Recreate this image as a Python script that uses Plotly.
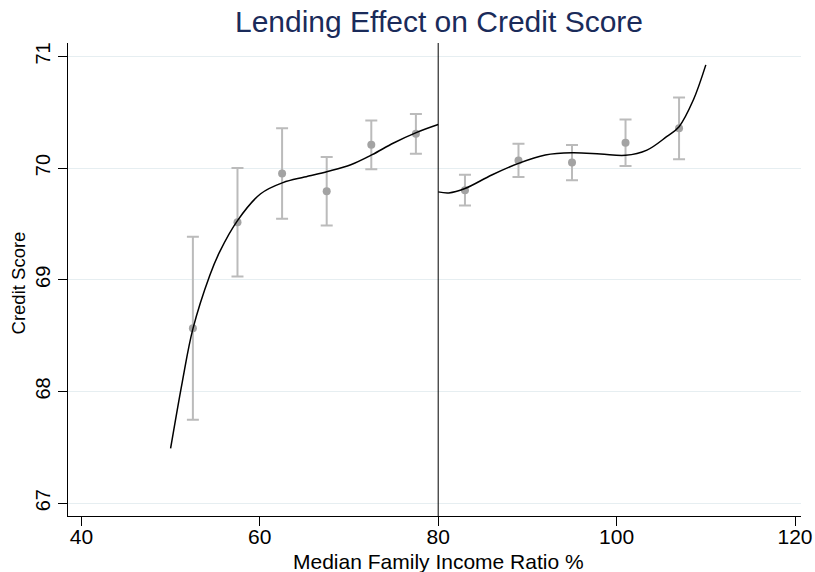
import plotly.graph_objects as go

# Binned means with confidence intervals
bin_x = [52.5, 57.5, 62.5, 67.5, 72.5, 77.5, 83, 89, 95, 101, 107]
bin_mean = [68.566, 69.515, 69.951, 69.792, 70.208, 70.307, 69.802, 70.069, 70.049, 70.227, 70.356]
ci_half = [0.82, 0.485, 0.405, 0.307, 0.218, 0.178, 0.138, 0.148, 0.158, 0.208, 0.277]

# Fitted curve below the 80% cutoff
fit_left_x = [50.0, 51.3, 52.5, 54.4, 55.5, 57.5, 60.1, 62.6, 65.0, 67.6, 70.2, 72.6, 75.0, 77.6, 80.0]
fit_left_y = [67.49, 68.08, 68.56, 69.04, 69.25, 69.53, 69.77, 69.87, 69.92, 69.97, 70.03, 70.12, 70.225, 70.32, 70.39]

# Fitted curve above the 80% cutoff
fit_right_x = [80.0, 81.2, 83.0, 86.0, 89.0, 92.0, 95.0, 98.2, 101.0, 103.4, 105.6, 107.0, 108.6, 110.0]
fit_right_y = [69.787, 69.778, 69.817, 69.938, 70.042, 70.117, 70.137, 70.126, 70.114, 70.161, 70.281, 70.371, 70.61, 70.924]

cutoff = 80
x_ticks = [40, 60, 80, 100, 120]
y_ticks = [67, 68, 69, 70, 71]
x_title = "Median Family Income Ratio %"
y_title = "Credit Score"

fig = go.Figure()

fig.add_trace(go.Scatter(
    x=bin_x, y=bin_mean, mode="markers",
    marker=dict(size=8, color="rgb(163,163,163)"),
    error_y=dict(type="data", array=ci_half, visible=True,
                 color="rgb(187,187,187)", thickness=2, width=6),
    showlegend=False,
))

for xs, ys in [(fit_left_x, fit_left_y), (fit_right_x, fit_right_y)]:
    fig.add_trace(go.Scatter(
        x=xs, y=ys, mode="lines",
        line=dict(color="black", width=1.5, shape="spline", smoothing=1.0),
        showlegend=False,
    ))

fig.add_shape(type="line", x0=cutoff, x1=cutoff, xref="x",
              y0=0, y1=1, yref="paper",
              line=dict(color="black", width=1))

font_family = "Liberation Sans, Arial, sans-serif"

# Axis titles placed as annotations for precise spacing
fig.add_annotation(text=x_title, xref="x", x=cutoff, yref="paper", y=-0.096,
                   xanchor="center", yanchor="middle", showarrow=False,
                   font=dict(size=21, color="black", family=font_family))
fig.add_annotation(text=y_title, xref="paper", x=-0.068, yref="paper", y=0.492,
                   xanchor="center", yanchor="middle", showarrow=False,
                   textangle=-90,
                   font=dict(size=18.5, color="black", family=font_family))

fig.update_layout(
    width=815, height=572,
    margin=dict(l=68, r=14, t=43, b=56),
    paper_bgcolor="white", plot_bgcolor="white",
    font=dict(family=font_family, color="black", size=18),
    title=dict(text="Lending Effect on Credit Score",
               font=dict(size=30, color="#1a2b5a", family=font_family),
               x=439 / 815, xanchor="center", y=0.962, yanchor="middle"),
    xaxis=dict(range=[38.5, 120.67], tickvals=x_ticks,
               showgrid=False, zeroline=False, automargin=False,
               showline=True, linecolor="black", linewidth=1,
               ticks="outside", ticklen=9, tickcolor="black",
               ticklabelstandoff=-7,
               tickfont=dict(size=21)),
    yaxis=dict(range=[66.885, 71.12], tickvals=y_ticks,
               showgrid=True, gridcolor="#e6eef1", gridwidth=1,
               zeroline=False, automargin=False,
               showline=True, linecolor="black", linewidth=1,
               ticks="outside", ticklen=9, tickcolor="black",
               tickangle=-90, tickfont=dict(size=20)),
)

fig.write_html("out.html")
